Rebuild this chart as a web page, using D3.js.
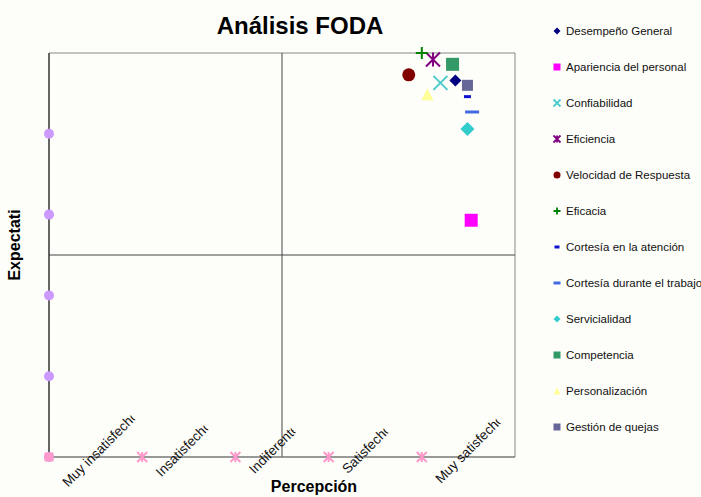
<!DOCTYPE html>
<html>
<head>
<meta charset="utf-8">
<script src="https://cdn.jsdelivr.net/npm/d3@7"></script>
<style>
  body { margin: 0; background: #fdfdf9; }
  svg { font-family: "Liberation Sans", Arial, sans-serif; }
</style>
</head>
<body>
<svg id="svg" width="701" height="497"></svg>
<script>
// datos
var series = ["Desempeño General", "Apariencia del personal", "Confiabilidad", "Eficiencia",
  "Velocidad de Respuesta", "Eficacia", "Cortesía en la atención", "Cortesía durante el trabajo",
  "Servicialidad", "Competencia", "Personalización", "Gestión de quejas"];
var percepcion  = [4.36, 4.53, 4.20, 4.12, 3.86, 4.00, 4.49, 4.54, 4.49, 4.33, 4.06, 4.49];
var expectativa = [4.66, 2.93, 4.63, 4.92, 4.73, 5.00, 4.46, 4.27, 4.06, 4.86, 4.49, 4.60];
var categorias = ["Muy insatisfecho", "Insatisfecho", "Indiferente", "Satisfecho", "Muy satisfecho"];
// series guía en los ejes
var guiaY = [0, 1, 2, 3, 4];
var guiaX = [1, 2, 3, 4];

var colores = ["#000080", "#ff00ff", "#4ccccc", "#800080", "#800000", "#008000",
  "#1010d0", "#4169e1", "#33cccc", "#339966", "#ffff99", "#666699"];
var simbolos = ["diamond", "square", "x", "star", "circle", "plus",
  "dashS", "dashL", "diamond", "square", "triangle", "square"];
var tam = [12, 13, 14, 14, 13, 12, 7, 14, 14, 13, 12, 11];

var svg = d3.select("#svg");
var pLeft = 49, pRight = 515, pTop = 53, pBottom = 457;

var x = d3.scaleLinear().domain([0, 5]).range([pLeft, pRight]);
var y = d3.scaleLinear().domain([0, 5]).range([pBottom, pTop]);

function marker(t, s) {
  var h = s / 2;
  if (t == "diamond") return "M0," + (-h) + "L" + h + ",0L0," + h + "L" + (-h) + ",0Z";
  if (t == "square") return "M" + (-h) + "," + (-h) + "h" + s + "v" + s + "h" + (-s) + "Z";
  if (t == "circle") return "M" + h + ",0A" + h + "," + h + " 0 1,1 " + (-h) + ",0A" + h + "," + h + " 0 1,1 " + h + ",0Z";
  if (t == "triangle") return "M0," + (-h) + "L" + h + "," + h + "L" + (-h) + "," + h + "Z";
  if (t == "x") return "M" + (-h) + "," + (-h) + "L" + h + "," + h + "M" + h + "," + (-h) + "L" + (-h) + "," + h;
  if (t == "plus") return "M0," + (-h) + "V" + h + "M" + (-h) + ",0H" + h;
  if (t == "star") return "M" + (-h) + "," + (-h) + "L" + h + "," + h + "M" + h + "," + (-h) + "L" + (-h) + "," + h + "M0," + (-h) + "V" + h;
  if (t == "dashS" || t == "dashL") return "M" + (-h) + ",-1.5h" + s + "v3h" + (-s) + "Z";
}
function esLinea(t) { return t == "x" || t == "plus" || t == "star"; }

// titulo
svg.append("text").attr("x", 300).attr("y", 34).attr("text-anchor", "middle")
  .attr("font-size", "24px").attr("font-weight", "bold").attr("fill", "#000")
  .text("Análisis FODA");

// marco y cuadrantes
svg.append("line").attr("x1", pLeft).attr("x2", pRight).attr("y1", pTop).attr("y2", pTop).attr("stroke", "#888");
svg.append("line").attr("x1", pRight).attr("x2", pRight).attr("y1", pTop).attr("y2", pBottom).attr("stroke", "#888");
svg.append("line").attr("x1", x(2.5)).attr("x2", x(2.5)).attr("y1", pTop).attr("y2", pBottom).attr("stroke", "#444");
svg.append("line").attr("x1", pLeft).attr("x2", pRight).attr("y1", y(2.5)).attr("y2", y(2.5)).attr("stroke", "#444");
svg.append("line").attr("x1", pLeft).attr("x2", pRight).attr("y1", pBottom).attr("y2", pBottom).attr("stroke", "#777").attr("stroke-width", 1.5);
svg.append("line").attr("x1", pLeft).attr("x2", pLeft).attr("y1", pTop).attr("y2", pBottom).attr("stroke", "#333").attr("stroke-width", 1.5);

// etiquetas de categorias (recortadas como en el original)
var defs = svg.append("defs");
var etq = svg.selectAll("g.etq").data(categorias).enter().append("g")
  .attr("class", "etq");
etq.append("text").attr("text-anchor", "start")
  .attr("font-size", "13.5px").attr("fill", "#111")
  .text(function(d) { return d; })
  .each(function(d, i) {
    var w = this.getComputedTextLength();
    d3.select(this.parentNode).attr("transform",
      "translate(" + (x(i + 0.5) - 27.5) + "," + (452 + 0.354 * w) + ") rotate(-45)");
    defs.append("clipPath").attr("id", "c" + i).append("rect")
      .attr("x", -2).attr("y", -16).attr("width", w - 3).attr("height", 24);
    d3.select(this).attr("clip-path", "url(#c" + i + ")");
  });

// titulos de ejes
svg.append("text").attr("x", 314).attr("y", 492).attr("text-anchor", "middle")
  .attr("font-size", "16px").attr("font-weight", "bold").text("Percepción");
svg.append("text").attr("transform", "translate(20,245) rotate(-90)").attr("text-anchor", "middle")
  .attr("font-size", "16px").attr("font-weight", "bold").text("Expectati");

// guías
svg.selectAll("path.gy").data(guiaY).enter().append("path").attr("class", "gy")
  .attr("transform", function(d) { return "translate(" + x(0) + "," + y(d) + ")"; })
  .attr("d", marker("circle", 10)).attr("fill", "#cc99ff");
svg.append("path").attr("transform", "translate(" + x(0) + "," + y(0) + ")")
  .attr("d", marker("square", 9)).attr("fill", "#ff99cc");
svg.selectAll("path.gx").data(guiaX).enter().append("path").attr("class", "gx")
  .attr("transform", function(d) { return "translate(" + x(d) + "," + y(0) + ")"; })
  .attr("d", marker("star", 10)).attr("fill", "none").attr("stroke", "#ff99cc").attr("stroke-width", 2);

// puntos
svg.selectAll("path.pt").data(series).enter().append("path").attr("class", "pt")
  .attr("transform", function(d, i) { return "translate(" + x(percepcion[i]) + "," + y(expectativa[i]) + ")"; })
  .attr("d", function(d, i) { return marker(simbolos[i], tam[i]); })
  .attr("fill", function(d, i) { return esLinea(simbolos[i]) ? "none" : colores[i]; })
  .attr("stroke", function(d, i) { return esLinea(simbolos[i]) ? colores[i] : "none"; })
  .attr("stroke-width", 2);

// leyenda
var leg = svg.selectAll("g.leg").data(series).enter().append("g").attr("class", "leg")
  .attr("transform", function(d, i) { return "translate(557," + (31 + 36 * i) + ")"; });
leg.append("path")
  .attr("d", function(d, i) { var s = simbolos[i]; return marker(s, s == "dashS" ? 5 : 7); })
  .attr("fill", function(d, i) { return esLinea(simbolos[i]) ? "none" : colores[i]; })
  .attr("stroke", function(d, i) { return esLinea(simbolos[i]) ? colores[i] : "none"; })
  .attr("stroke-width", 1.8);
leg.append("text").attr("x", 9).attr("y", 4).attr("font-size", "11.5px").attr("fill", "#111")
  .text(function(d) { return d; });
</script>
</body>
</html>
